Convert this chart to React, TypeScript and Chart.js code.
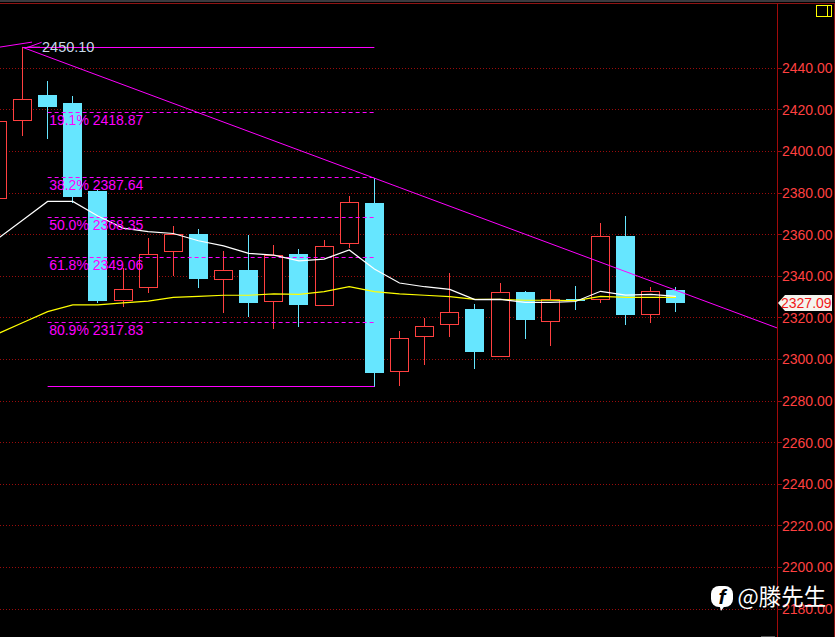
import React, { useEffect, useRef } from "react";
import { Chart, registerables } from "chart.js";

Chart.register(...registerables);

const candleIndex = [0, 1, 2, 3, 4, 5, 6, 7, 8, 9, 10, 11, 12, 13, 14, 15, 16, 17, 18, 19, 20, 21, 22, 23, 24, 25, 26, 27];
const opens = [2377.2, 2414.5, 2427.2, 2423.3, 2381.0, 2328.3, 2334.5, 2351.8, 2360.3, 2338.4, 2343.0, 2327.5, 2350.7, 2325.8, 2355.4, 2375.2, 2293.8, 2311.0, 2316.7, 2324.3, 2301.3, 2332.4, 2318.2, 2329.3, 2328.5, 2359.4, 2321.5, 2333.4];
const closes = [2414.7, 2425.1, 2421.5, 2378.3, 2328.3, 2333.7, 2350.6, 2360.2, 2338.7, 2342.9, 2327.3, 2350.1, 2326.3, 2354.4, 2375.6, 2293.6, 2310.2, 2316.0, 2322.7, 2303.6, 2332.3, 2319.0, 2328.9, 2328.1, 2359.2, 2321.5, 2332.8, 2327.3];
const highs = [2414.7, 2450.1, 2433.9, 2426.7, 2381.5, 2344.0, 2358.4, 2364.2, 2362.7, 2352.2, 2359.9, 2355.0, 2353.1, 2357.5, 2378.6, 2387.3, 2313.6, 2319.8, 2341.6, 2326.7, 2336.8, 2332.9, 2333.4, 2335.3, 2365.6, 2369.0, 2334.8, 2334.8];
const lows = [2377.2, 2407.6, 2406.2, 2375.2, 2327.3, 2325.4, 2332.1, 2340.1, 2334.4, 2322.4, 2320.6, 2314.7, 2315.8, 2325.8, 2353.6, 2286.8, 2287.3, 2297.4, 2310.8, 2295.4, 2301.2, 2309.8, 2306.5, 2323.8, 2327.3, 2316.6, 2317.5, 2322.8];
const maWhite = [2358.0, 2367.0, 2376.0, 2376.0, 2369.0, 2363.2, 2361.5, 2360.6, 2357.1, 2354.6, 2351.0, 2350.2, 2347.4, 2348.3, 2352.7, 2343.5, 2336.8, 2335.0, 2333.7, 2328.8, 2328.9, 2327.5, 2327.5, 2327.9, 2332.8, 2331.0, 2331.3, 2330.4];
const maYellow = [2312.3, 2317.7, 2323.0, 2326.3, 2326.3, 2327.2, 2328.1, 2329.9, 2330.4, 2330.9, 2330.9, 2331.6, 2331.3, 2332.6, 2335.0, 2332.6, 2331.6, 2330.9, 2330.2, 2328.9, 2328.9, 2328.5, 2328.5, 2328.3, 2330.4, 2329.9, 2329.9, 2329.9];

const yTicks = [2180, 2200, 2220, 2240, 2260, 2280, 2300, 2320, 2340, 2360, 2380, 2400, 2420, 2440];
const fibLevels = [2418.87, 2387.64, 2368.35, 2349.06, 2317.83];
const fibNames = ["19.1%", "38.2%", "50.0%", "61.8%", "80.9%"];
const fibStart = 2;
const fibEnd = 15;
const swingHigh = 2450.1;
const swingLow = 2286.8;
const trendLine = [{ x: 1, y: 2450.1 }, { x: 31.02, y: 2315.2 }];
const olderTrend = [{ x: 0.1, y: 2450.2 }, { x: 1.38, y: 2452.6 }];
const pointerTop = [{ x: 1.17, y: 2449.9 }, { x: 1.76, y: 2452.5 }];
const pointerWhite = [{ x: 1.18, y: 2450.1 }, { x: 1.7, y: 2450.1 }];
const lastPrice = 2327.09;

const RED = "#ff4040";
const CYAN = "#66e6ff";
const MAGENTA = "#ff00ff";
const FONT = '"Liberation Sans", Arial, sans-serif';

const overlay = {
  id: "overlay",
  afterDatasetsUpdate(chart: any) {
    chart.data.datasets.forEach((ds: any, idx: number) => {
      const meta = chart.getDatasetMeta(idx);
      if (ds.type === "bar") {
        meta.data.forEach((b: any) => {
          b.x = Math.floor(b.x) + 0.5;
          b.y = Math.round(b.y);
          b.base = Math.round(b.base);
        });
      } else if (ds.snap) {
        meta.data.forEach((p: any) => {
          p.y = Math.floor(p.y) + 0.5;
        });
      }
    });
  },
  beforeDraw(chart: any) {
    const { ctx, width, height } = chart;
    ctx.save();
    ctx.fillStyle = "#000";
    ctx.fillRect(0, 0, width, height);
    ctx.fillStyle = "#3a3a3e";
    ctx.fillRect(0, 0, width, 2);
    ctx.fillStyle = "#8e1414";
    ctx.fillRect(0, 3, width, 1);
    ctx.fillRect(834, 3, 1, height);
    ctx.fillStyle = "#555";
    ctx.fillRect(761, 636, 14, 1);
    ctx.strokeStyle = "#ffff00";
    ctx.lineWidth = 1;
    ctx.strokeRect(816.5, 5.5, 15, 11);
    ctx.beginPath();
    ctx.moveTo(827.5, 5.5);
    ctx.lineTo(827.5, 16.5);
    ctx.stroke();
    ctx.restore();
    const yScale = chart.scales.y;
    if (!yScale._labelsShifted) {
      yScale.getLabelItems().forEach((it: any) => {
        it.options.translation = [it.options.translation[0], it.options.translation[1] + 1];
      });
      yScale._labelsShifted = true;
    }
  },
  afterDatasetsDraw(chart: any) {
    const { ctx, scales } = chart;
    const { x, y } = scales;
    ctx.save();
    ctx.textBaseline = "middle";
    ctx.textAlign = "left";
    ctx.font = `14px ${FONT}`;
    ctx.fillStyle = MAGENTA;
    fibLevels.forEach((lvl, i) => {
      ctx.fillText(`${fibNames[i]} ${lvl.toFixed(2)}`, x.getPixelForValue(fibStart) + 1.5, y.getPixelForValue(lvl) + 9);
    });
    ctx.font = `14.5px ${FONT}`;
    ctx.fillStyle = "#c8d8e8";
    ctx.fillText(swingHigh.toFixed(2), 42, y.getPixelForValue(swingHigh) + 1);
    ctx.restore();
  },
  afterDraw(chart: any) {
    const { ctx, scales } = chart;
    const py = Math.round(scales.y.getPixelForValue(lastPrice));
    ctx.save();
    ctx.fillStyle = "#f4f4ee";
    ctx.beginPath();
    ctx.moveTo(778, py);
    ctx.lineTo(785, py - 8);
    ctx.lineTo(832, py - 8);
    ctx.lineTo(832, py + 8);
    ctx.lineTo(785, py + 8);
    ctx.closePath();
    ctx.fill();
    ctx.fillStyle = "#f01818";
    ctx.font = `14px ${FONT}`;
    ctx.textBaseline = "middle";
    ctx.textAlign = "left";
    ctx.fillText(lastPrice.toFixed(2), 781, py + 1);

    ctx.fillStyle = "#fff";
    ctx.beginPath();
    ctx.roundRect(711, 586, 22, 21, 8);
    ctx.fill();
    ctx.beginPath();
    ctx.moveTo(719, 604);
    ctx.lineTo(721, 611);
    ctx.lineTo(726, 604);
    ctx.closePath();
    ctx.fill();
    ctx.fillStyle = "#000";
    ctx.font = `italic bold 21px ${FONT}`;
    ctx.textAlign = "center";
    ctx.fillText("f", 722, 598);
    ctx.fillStyle = "#fff";
    ctx.font = '22.5px "Noto Sans CJK SC", sans-serif';
    ctx.textAlign = "left";
    ctx.fillText("@滕先生", 737.5, 596);
    ctx.restore();
  },
};

const hLine = (y: number, from: number, to: number, dash: number[] = []) => ({
  type: "line" as const,
  data: [{ x: from, y }, { x: to, y }],
  borderColor: MAGENTA,
  borderWidth: 1,
  borderDash: dash,
  pointRadius: 0,
  tension: 0,
  order: 1,
  snap: true,
});

const segment = (data: { x: number; y: number }[], color: string, width = 1) => ({
  type: "line" as const,
  data,
  borderColor: color,
  borderWidth: width,
  pointRadius: 0,
  tension: 0,
  order: 1,
});

export default function App() {
  const ref = useRef<HTMLCanvasElement>(null);
  useEffect(() => {
    document.body.style.margin = "0";
    document.body.style.background = "#000";
    const canvas = ref.current as HTMLCanvasElement;
    canvas.getContext("2d", { alpha: false });
    const isUp = candleIndex.map((i) => closes[i] >= opens[i]);
    const chart = new Chart(canvas, {
      type: "bar",
      data: {
        datasets: [
          {
            type: "bar",
            data: candleIndex.map((i) => ({ x: i, y: [lows[i], highs[i]] })),
            backgroundColor: isUp.map((u) => (u ? RED : CYAN)),
            borderWidth: 0,
            barThickness: 1,
            inflateAmount: 0,
            grouped: false,
            order: 5,
          },
          {
            type: "bar",
            data: candleIndex.map((i) => ({ x: i, y: [opens[i], closes[i]] })),
            backgroundColor: isUp.map((u) => (u ? "#000000" : CYAN)),
            borderColor: isUp.map((u) => (u ? RED : CYAN)),
            borderWidth: 1,
            borderSkipped: false,
            barThickness: 19,
            inflateAmount: 0,
            grouped: false,
            order: 4,
          },
          segment(candleIndex.map((i) => ({ x: i, y: maWhite[i] })), "#ffffff", 1.2),
          segment(candleIndex.map((i) => ({ x: i, y: maYellow[i] })), "#ffff00", 1.2),
          ...fibLevels.map((l) => hLine(l, fibStart, fibEnd, [4, 3])),
          hLine(swingHigh, 1, fibEnd),
          hLine(swingLow, fibStart, fibEnd),
          segment(trendLine, MAGENTA),
          segment(olderTrend, MAGENTA),
          segment(pointerTop, MAGENTA),
          segment(pointerWhite, "#ffffff"),
        ] as any,
      },
      options: {
        responsive: false,
        animation: false,
        devicePixelRatio: 1,
        layout: { padding: { top: 3, left: 0, right: 0, bottom: 0 } },
        plugins: { legend: { display: false }, tooltip: { enabled: false }, title: { display: false } },
        scales: {
          x: { type: "linear", display: false, min: 0.105, max: 31.02, offset: false },
          y: {
            type: "linear",
            position: "right",
            min: 2166.6,
            max: 2471.4,
            afterBuildTicks(s: any) {
              s.ticks = yTicks.map((value) => ({ value }));
            },
            afterFit(s: any) {
              s.width = 58;
              s.paddingTop = 0;
              s.paddingBottom = 0;
            },
            grid: { color: "#9a0c0c", lineWidth: 1, tickColor: "#9a0c0c", tickLength: 5, tickBorderDash: [], drawTicks: true },
            border: { color: "#a00a0a", dash: [1, 2], display: true },
            ticks: {
              color: RED,
              padding: 0,
              font: { family: FONT, size: 14 },
              callback: (v: any) => Number(v).toFixed(2),
            },
          },
        },
      },
      plugins: [overlay],
    } as any);
    return () => chart.destroy();
  }, []);
  return <canvas ref={ref} width={835} height={637} style={{ display: "block", width: 835, height: 637 }} />;
}
